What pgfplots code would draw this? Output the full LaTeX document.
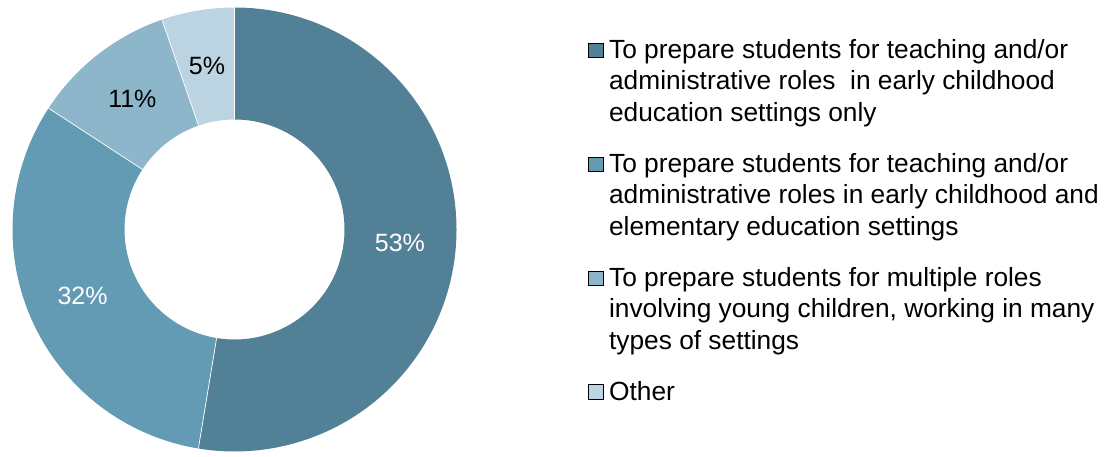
\documentclass[border=0pt]{standalone}
\usepackage{pgfplots}
\pgfplotsset{compat=1.18}
\usepackage{fontspec}
\setmainfont{Liberation Sans}
\definecolor{c1}{HTML}{528096}
\definecolor{c2}{HTML}{639BB4}
\definecolor{c3}{HTML}{8DB6CB}
\definecolor{c4}{HTML}{BCD4E2}
% shares (percent): 10/19, 6/19, 2/19, 1/19
\def\vA{52.6}\def\vB{31.6}\def\vC{10.5}\def\vD{5.3}
\def\cx{234.5}\def\cy{224.5}
\def\Rout{222pt}\def\Rin{110pt}\def\Rlab{166pt}
\pgfmathsetmacro\aA{90}
\pgfmathsetmacro\aB{\aA-3.6*\vA}
\pgfmathsetmacro\aC{\aB-3.6*\vB}
\pgfmathsetmacro\aD{\aC-3.6*\vC}
\pgfmathsetmacro\aE{\aD-3.6*\vD}
\pgfmathsetmacro\mA{(\aA+\aB)/2}
\pgfmathsetmacro\mB{(\aB+\aC)/2}
\pgfmathsetmacro\mC{(\aC+\aD)/2}
\pgfmathsetmacro\mD{(\aD+\aE)/2}
\newcommand\wedgeseg[3]{%
  \fill[#1] ([shift={(#2:\Rout)}]axis cs:\cx,\cy) arc[start angle=#2,end angle=#3,radius=\Rout]
    -- ([shift={(#3:\Rin)}]axis cs:\cx,\cy) arc[start angle=#3,end angle=#2,radius=\Rin] -- cycle;}
\newcommand\seplin[1]{%
  \draw[white,line width=0.7pt] ([shift={(#1:\Rin)}]axis cs:\cx,\cy) -- ([shift={(#1:\Rout)}]axis cs:\cx,\cy);}
\newcommand\wlabel[3]{%
  \node[text=#2,font=\fontsize{25}{30}\selectfont,inner sep=0pt] at ([shift={(#1:\Rlab)}]axis cs:\cx,\cy) {#3};}
\begin{document}
\begin{tikzpicture}
\begin{axis}[x=1pt,y=1pt,xmin=0,xmax=1113,ymin=0,ymax=454,
  hide axis,clip=false,enlargelimits=false,
  legend style={at={(axis cs:588,417)},anchor=north west,draw=none,fill=none,
    font=\fontsize{26.3}{31.5}\selectfont,inner sep=0pt,
    row sep=26.5pt,column sep=4pt,
    cells={anchor=west,align=left}},
  legend image code/.code={\fill[#1] (0pt,-7.25pt) rectangle (14.5pt,7.25pt);},
]
\path (axis cs:0,0) rectangle (axis cs:1113,454);
\addlegendimage{fill=c1,yshift=31pt}
\addlegendentry{To prepare students for teaching and/or\\administrative roles\ \ in early childhood\\education settings only}
\addlegendimage{fill=c2,yshift=31pt}
\addlegendentry{To prepare students for teaching and/or\\administrative roles in early childhood and\\elementary education settings}
\addlegendimage{fill=c3,yshift=31pt}
\addlegendentry{To prepare students for multiple roles\\involving young children, working in many\\types of settings}
\addlegendimage{fill=c4}
\addlegendentry{Other}
\wedgeseg{c1}{\aA}{\aB}
\wedgeseg{c2}{\aB}{\aC}
\wedgeseg{c3}{\aC}{\aD}
\wedgeseg{c4}{\aD}{\aE}
\seplin{\aA}\seplin{\aB}\seplin{\aC}\seplin{\aD}
\wlabel{\mA}{white}{53\%}
\wlabel{\mB}{white}{32\%}
\wlabel{\mC}{black}{11\%}
\wlabel{\mD}{black}{5\%}
\end{axis}
\end{tikzpicture}
\end{document}
